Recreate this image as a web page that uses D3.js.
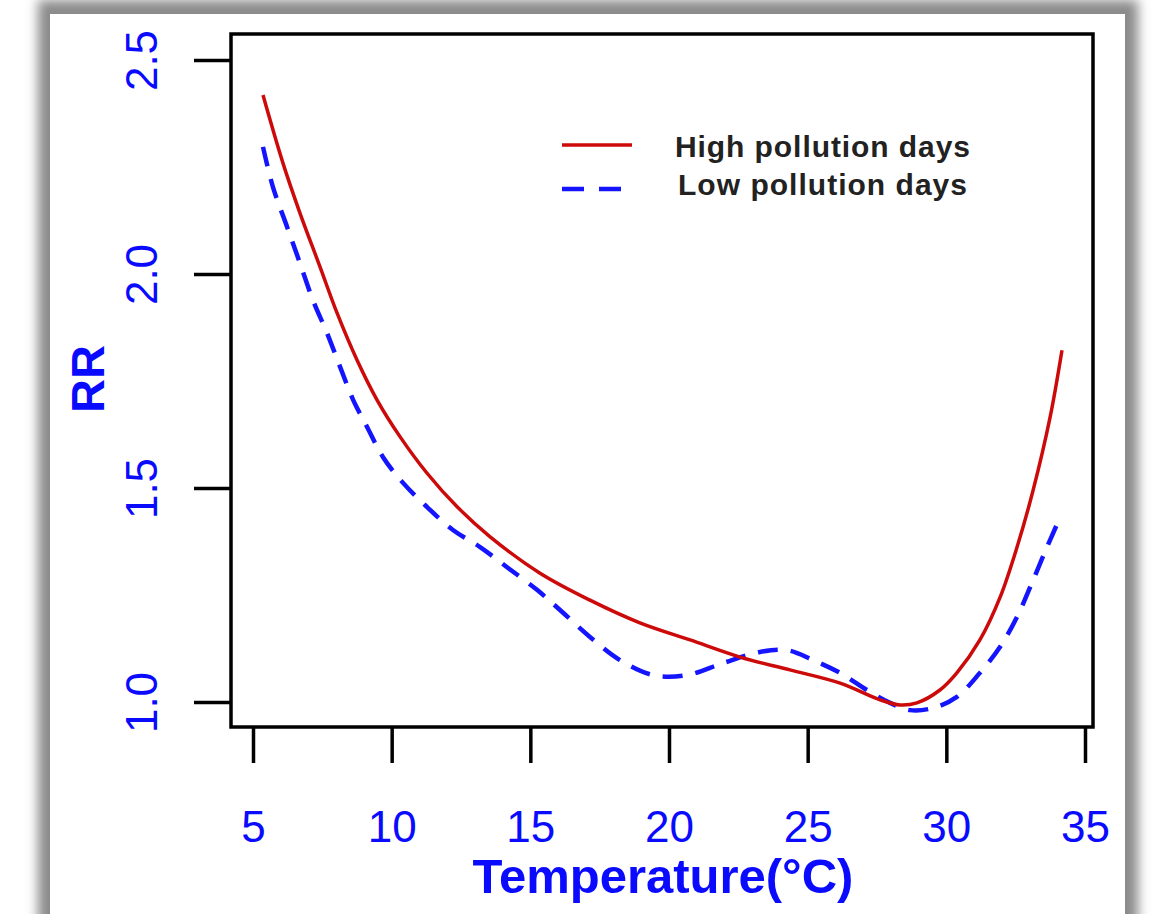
<!DOCTYPE html>
<html>
<head>
<meta charset="utf-8">
<script src="https://cdn.jsdelivr.net/npm/d3@7"></script>
<style>
  body { margin: 0; background: #fff; }
  svg { display: block; }
</style>
</head>
<body>
<div id="chart"></div>
<script>
// temperature (°C) and relative risk
var highTemp = [5.36, 6.08, 6.69, 7.42, 8.03, 8.75, 9.47, 10.3, 11.27, 12.36, 13.55, 15.35, 17.15, 18.95, 20.76, 22.56, 24.36, 26.17, 27.61, 28.33, 28.94, 29.77, 30.38, 31.21, 31.94, 32.55, 33.13, 33.74, 34.17];
var highRR = [2.418, 2.259, 2.143, 2.016, 1.909, 1.799, 1.706, 1.620, 1.535, 1.456, 1.386, 1.301, 1.238, 1.185, 1.145, 1.105, 1.075, 1.044, 1.005, 0.993, 0.998, 1.028, 1.068, 1.145, 1.245, 1.362, 1.495, 1.665, 1.822];

var lowTemp = [5.36, 5.72, 6.23, 6.69, 7.16, 7.67, 8.14, 8.61, 9.11, 9.69, 10.41, 11.27, 12.21, 13.19, 14.16, 15.24, 16.07, 17.15, 18.23, 19.42, 20.65, 21.95, 23.28, 24.26, 25.19, 26.17, 27.14, 27.97, 28.69, 29.52, 30.38, 31.21, 31.94, 32.55, 33.13, 33.63, 34.03];
var lowRR = [2.297, 2.203, 2.11, 2.026, 1.939, 1.862, 1.783, 1.706, 1.643, 1.572, 1.512, 1.456, 1.402, 1.362, 1.315, 1.262, 1.215, 1.152, 1.098, 1.063, 1.063, 1.091, 1.117, 1.121, 1.098, 1.068, 1.028, 0.998, 0.981, 0.986, 1.012, 1.068, 1.129, 1.199, 1.285, 1.362, 1.421];

var xTicks = [5, 10, 15, 20, 25, 30, 35];
var yTicks = [1.0, 1.5, 2.0, 2.5];
var seriesNames = ["High pollution days", "Low pollution days"];

var W = 1154, H = 914;
var font = "'Liberation Sans', Arial, sans-serif";

var svg = d3.select("#chart").append("svg")
    .attr("width", W)
    .attr("height", H);

// grey shadow frame
var defs = svg.append("defs");
defs.append("filter")
    .attr("id", "blur")
    .attr("x", "-5%").attr("y", "-5%")
    .attr("width", "110%").attr("height", "110%")
    .append("feGaussianBlur")
    .attr("stdDeviation", 6);

svg.append("rect")
    .attr("x", 38).attr("y", 0)
    .attr("width", 1100).attr("height", 1000)
    .style("fill", "#8a8a8a")
    .attr("filter", "url(#blur)");
svg.append("rect")
    .attr("x", 50).attr("y", 14)
    .attr("width", 1075).attr("height", 1000)
    .style("fill", "#fff");

var x = d3.scaleLinear().domain([5, 35]).range([253, 1085]);
var y = d3.scaleLinear().domain([1, 2.5]).range([702, 60]);

var box = { left: 231, right: 1093, top: 34, bottom: 727 };

// x axis
var xAxis = svg.append("g")
    .attr("transform", "translate(0," + box.bottom + ")")
    .call(d3.axisBottom(x).tickValues(xTicks).tickSize(36).tickFormat(d3.format("d")));
xAxis.select(".domain").remove();
xAxis.selectAll("line").style("stroke", "#000").style("stroke-width", 3.5);
xAxis.selectAll("text")
    .attr("y", 115)
    .attr("dy", 0)
    .style("font-family", font)
    .style("font-size", "44px")
    .style("fill", "#0a0aff");

// y axis
var yAxis = svg.append("g")
    .attr("transform", "translate(" + box.left + ",0)")
    .call(d3.axisLeft(y).tickValues(yTicks).tickSize(37).tickFormat(d3.format(".1f")));
yAxis.select(".domain").remove();
yAxis.selectAll("line").style("stroke", "#000").style("stroke-width", 3.5);
yAxis.selectAll("text")
    .attr("x", 0)
    .attr("dy", 0)
    .attr("transform", "translate(-74,0) rotate(-90)")
    .attr("text-anchor", "middle")
    .style("font-family", font)
    .style("font-size", "44px")
    .style("fill", "#0a0aff");

// plot box
svg.append("rect")
    .attr("x", box.left)
    .attr("y", box.top)
    .attr("width", box.right - box.left)
    .attr("height", box.bottom - box.top)
    .style("fill", "none")
    .style("stroke", "#000")
    .style("stroke-width", 3.5);

// axis titles
svg.append("text")
    .attr("x", 663)
    .attr("y", 893)
    .attr("text-anchor", "middle")
    .style("font-family", font)
    .style("font-weight", "bold")
    .style("font-size", "49px")
    .style("fill", "#0a0aff")
    .text("Temperature(°C)");

svg.append("text")
    .attr("transform", "translate(104,379) rotate(-90)")
    .attr("text-anchor", "middle")
    .style("font-family", font)
    .style("font-weight", "bold")
    .style("font-size", "47px")
    .style("fill", "#0a0aff")
    .text("RR");

// curves
var line = d3.line()
    .x(function (d) { return x(d[0]); })
    .y(function (d) { return y(d[1]); })
    .curve(d3.curveCatmullRom.alpha(0.5));

var lowData = d3.zip(lowTemp, lowRR);
var highData = d3.zip(highTemp, highRR);

svg.append("path")
    .datum(lowData)
    .attr("d", line)
    .style("fill", "none")
    .style("stroke", "#1414ff")
    .style("stroke-width", 4.5)
    .style("stroke-dasharray", "20,13");

svg.append("path")
    .datum(highData)
    .attr("d", line)
    .style("fill", "none")
    .style("stroke", "#cc0a0a")
    .style("stroke-width", 3.5);

// legend
var legend = svg.append("g");
legend.append("line")
    .attr("x1", 562).attr("x2", 632)
    .attr("y1", 145).attr("y2", 145)
    .style("stroke", "#cc0a0a")
    .style("stroke-width", 3.5);
legend.append("line")
    .attr("x1", 562).attr("x2", 622)
    .attr("y1", 189).attr("y2", 189)
    .style("stroke", "#1414ff")
    .style("stroke-width", 4.5)
    .style("stroke-dasharray", "22,15");

legend.selectAll("text.lab")
    .data(seriesNames)
    .enter()
    .append("text")
    .attr("class", "lab")
    .attr("x", function (d, i) { return i === 0 ? 675 : 678; })
    .attr("y", function (d, i) { return i === 0 ? 157 : 195; })
    .attr("textLength", function (d, i) { return i === 0 ? 295 : 289; })
    .attr("lengthAdjust", "spacing")
    .style("font-family", font)
    .style("font-weight", "bold")
    .style("font-size", "30px")
    .style("fill", "#222")
    .text(function (d) { return d; });
</script>
</body>
</html>
